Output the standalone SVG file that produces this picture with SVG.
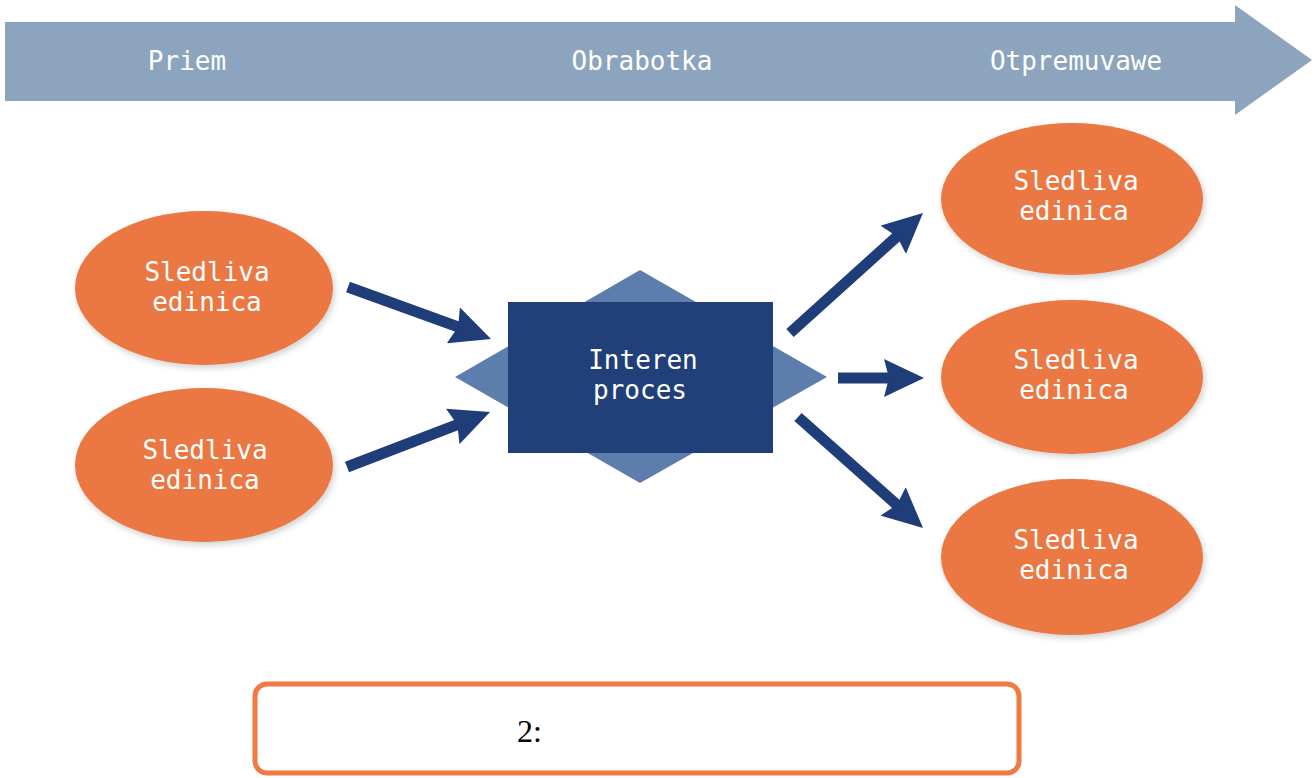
<svg xmlns="http://www.w3.org/2000/svg" width="1315" height="778" viewBox="0 0 1315 778">
  <style>
    .lbl { font-family: "DejaVu Sans Mono", "Liberation Mono", monospace; font-size: 26px; fill: #ffffff; text-anchor: middle; }
    .unit { fill: #EB7742; filter: url(#soft); }
    .conn { stroke: #1F3D78; stroke-width: 11; fill: none; marker-end: url(#head); }
    .cap { font-family: "Liberation Serif", serif; font-size: 32px; fill: #000000; }
  </style>
  <defs>
    <filter id="soft" x="-10%" y="-10%" width="125%" height="130%">
      <feGaussianBlur in="SourceAlpha" stdDeviation="3"/>
      <feOffset dx="2" dy="3" result="b"/>
      <feFlood flood-color="#000000" flood-opacity="0.18"/>
      <feComposite in2="b" operator="in"/>
      <feMerge><feMergeNode/><feMergeNode in="SourceGraphic"/></feMerge>
    </filter>
    <marker id="head" viewBox="0 0 40 38" refX="10" refY="19" markerWidth="40" markerHeight="38" markerUnits="userSpaceOnUse" orient="auto">
      <path d="M0,0 L40,19 L0,38 L5,19 Z" fill="#1F3D78"/>
    </marker>
  </defs>
  <rect width="1315" height="778" fill="#ffffff"/>

  <g id="banner">
    <path d="M5,22 L1235,22 L1235,5 L1312,60 L1235,115 L1235,101 L5,101 Z" fill="#8DA4BE"/>
    <text class="lbl" x="187" y="70">Priem</text>
    <text class="lbl" x="642" y="70">Obrabotka</text>
    <text class="lbl" x="1076" y="70">Otpremuvawe</text>
  </g>

  <g id="connectors">
    <line class="conn" x1="348" y1="287" x2="462.8" y2="328.7"/>
    <line class="conn" x1="347" y1="467" x2="462" y2="422.8"/>
    <line class="conn" x1="790" y1="333" x2="900.7" y2="233.1"/>
    <line class="conn" x1="838" y1="378" x2="894" y2="378"/>
    <line class="conn" x1="798" y1="417" x2="900.6" y2="508.1"/>
  </g>

  <g id="in1">
    <ellipse class="unit" cx="204" cy="288" rx="129" ry="77"/>
    <text class="lbl" x="207" y="281">Sledliva</text>
    <text class="lbl" x="207" y="311">edinica</text>
  </g>
  <g id="in2">
    <ellipse class="unit" cx="204" cy="465" rx="129" ry="77"/>
    <text class="lbl" x="205" y="459">Sledliva</text>
    <text class="lbl" x="205" y="489">edinica</text>
  </g>

  <g id="process">
    <polygon points="640,270 827,377 640,483 455,377" fill="#5D7EAC"/>
    <rect x="508" y="302" width="265" height="151" fill="#213F79"/>
    <text class="lbl" x="643" y="369">Interen</text>
    <text class="lbl" x="640" y="399">proces</text>
  </g>

  <g id="out1">
    <ellipse class="unit" cx="1072" cy="199" rx="131" ry="76"/>
    <text class="lbl" x="1076" y="190">Sledliva</text>
    <text class="lbl" x="1074" y="220">edinica</text>
  </g>
  <g id="out2">
    <ellipse class="unit" cx="1072" cy="377" rx="131" ry="77"/>
    <text class="lbl" x="1076" y="369">Sledliva</text>
    <text class="lbl" x="1074" y="399">edinica</text>
  </g>
  <g id="out3">
    <ellipse class="unit" cx="1072" cy="557" rx="131" ry="78"/>
    <text class="lbl" x="1076" y="549">Sledliva</text>
    <text class="lbl" x="1074" y="579">edinica</text>
  </g>

  <g id="caption">
    <rect x="255" y="684" width="764" height="89" rx="12" ry="12" fill="#ffffff" stroke="#F07A42" stroke-width="5"/>
    <text class="cap" x="517" y="742">2:</text>
  </g>
</svg>
